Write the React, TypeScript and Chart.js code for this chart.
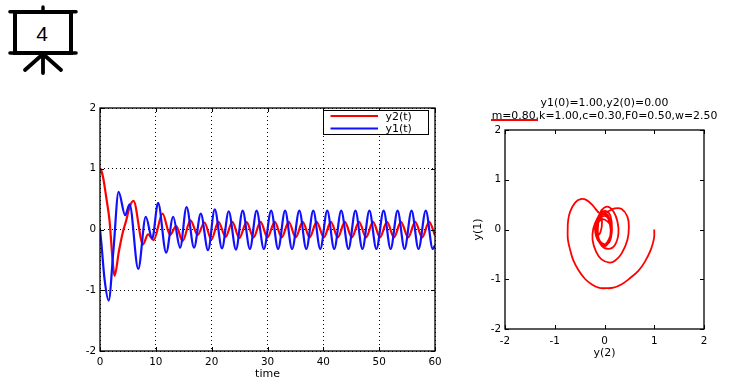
import React, { useEffect, useRef } from "react";
import { Chart, registerables } from "chart.js";

Chart.register(...registerables);

const y1Times = [0, 0.25, 0.83, 1.55, 2.4, 3.33, 4.5, 5.3, 6.85, 8.2, 9.35, 10.4, 11.85, 13.1, 14.35, 15.5, 16.85, 18.05, 19.35, 20.55, 21.85, 23.05, 24.35, 25.55, 26.85, 28.05, 29.35, 30.65, 31.9, 33.15, 34.4, 35.7, 36.95, 38.2, 39.45, 40.7, 41.95, 43.2, 44.5, 45.75, 47.0, 48.25, 49.5, 50.8, 52.05, 53.3, 54.55, 55.8, 57.05, 58.35, 59.6, 60];
const y1Values = [0, -0.23, -0.83, -1.17, -0.35, 0.62, 0.235, 0.415, -0.65, 0.21, -0.15, 0.44, -0.38, 0.21, -0.3, 0.37, -0.3, 0.26, -0.34, 0.33, -0.31, 0.3, -0.33, 0.31, -0.32, 0.31, -0.32, 0.31, -0.32, 0.31, -0.32, 0.31, -0.32, 0.31, -0.32, 0.31, -0.32, 0.31, -0.32, 0.31, -0.32, 0.31, -0.32, 0.31, -0.32, 0.31, -0.32, 0.31, -0.32, 0.31, -0.32, -0.26];
const y2Times = [0, 0.2, 0.55, 1.2, 1.7, 2.3, 2.6, 3.4, 4.1, 4.7, 5.3, 6, 7.7, 8.6, 9.6, 11.2, 12.55, 13.65, 14.8, 16.2, 17.5, 18.7, 19.95, 21.2, 22.5, 23.7, 24.95, 26.25, 27.5, 28.75, 30.0, 31.3, 32.55, 33.8, 35.05, 36.3, 37.55, 38.8, 40.1, 41.35, 42.6, 43.85, 45.1, 46.4, 47.65, 48.9, 50.15, 51.4, 52.65, 53.9, 55.2, 56.45, 57.7, 58.95, 60];
const y2Values = [1, 0.98, 0.86, 0.48, 0.15, -0.55, -0.765, -0.35, -0.04, 0.15, 0.37, 0.47, -0.245, -0.08, -0.175, 0.26, -0.09, 0.055, -0.19, 0.15, -0.09, 0.115, -0.165, 0.125, -0.12, 0.125, -0.14, 0.12, -0.13, 0.125, -0.13, 0.125, -0.13, 0.125, -0.13, 0.125, -0.13, 0.125, -0.13, 0.125, -0.13, 0.125, -0.13, 0.125, -0.13, 0.125, -0.13, 0.125, -0.13, 0.125, -0.13, 0.125, -0.13, 0.125, -0.1];

const portraitY2 = [1, 0.995, 0.93, 0.81, 0.68, 0.51, 0.345, 0.18, 0.03, -0.12, -0.26, -0.39, -0.525, -0.63, -0.69, -0.735, -0.74, -0.73, -0.69, -0.59, -0.48, -0.36, -0.225, -0.09, 0.06, 0.21, 0.345, 0.46, 0.49, 0.46, 0.345, 0.21, 0.1, -0.06, -0.17, -0.24, -0.225, -0.145, -0.09, -0.05, -0.08, -0.15, -0.14, -0.08, -0.06, 0.06, 0.18, 0.26, 0.28, 0.21, 0.08, -0.06, -0.145, -0.145,
  -0.07, 0.0, 0.1, 0.14, 0.1, 0.0, -0.13, -0.19, -0.15, -0.08, 0.03, 0.12, 0.15, 0.1, 0.0, -0.1, -0.16, -0.13, -0.05, 0.04, 0.11, 0.13, 0.09, -0.01, -0.11, -0.15, -0.11, -0.02, 0.07, 0.12, 0.14, 0.09, 0.0, -0.1, -0.14, -0.1, -0.02, 0.08, 0.125, 0.09, 0.0, -0.1, -0.135, -0.1, -0.02, 0.08, 0.125, 0.09, 0.0, -0.1, -0.135, -0.1, -0.02, 0.08, 0.125];
const portraitY1 = [0, -0.18, -0.41, -0.65, -0.83, -0.98, -1.1, -1.17, -1.18, -1.17, -1.1, -0.995, -0.815, -0.61, -0.41, -0.21, -0.01, 0.19, 0.36, 0.54, 0.61, 0.59, 0.47, 0.325, 0.36, 0.425, 0.41, 0.26, 0.06, -0.21, -0.48, -0.63, -0.665, -0.6, -0.445, -0.21, 0.02, 0.225, 0.27, 0.15, -0.05, -0.13, 0.05, 0.3, 0.39, 0.46, 0.36, 0.16, -0.08, -0.31, -0.39, -0.325, -0.14, 0.09,
  0.2, 0.2, 0.12, -0.02, -0.17, -0.3, -0.22, 0.0, 0.2, 0.33, 0.37, 0.27, 0.0, -0.25, -0.3, -0.22, 0.0, 0.18, 0.26, 0.26, 0.15, -0.02, -0.24, -0.34, -0.24, 0.0, 0.24, 0.33, 0.28, 0.1, -0.03, -0.23, -0.31, -0.23, 0.0, 0.23, 0.31, 0.21, 0.0, -0.23, -0.32, -0.23, 0.0, 0.23, 0.31, 0.21, 0.0, -0.23, -0.32, -0.23, 0.0, 0.23, 0.31, 0.21, 0.0];

const xAxisLabel = "time";
const titleLines = ["y1(0)=1.00,y2(0)=0.00", "m=0.80,k=1.00,c=0.30,F0=0.50,w=2.50"];

const FONT = "'DejaVu Sans'";
const tickFont = { family: FONT, size: 10.4 };
const labelFont = { family: FONT, size: 11 };

const zip = (xs: number[], ys: number[]) => xs.map((x, i) => ({ x, y: ys[i] }));

const framePlugin = {
  id: "frame",
  afterDraw(chart: any) {
    const { ctx, chartArea: a, scales } = chart;
    ctx.save();
    ctx.strokeStyle = "#000";
    ctx.lineWidth = 1.3;
    ctx.strokeRect(a.left, a.top, a.right - a.left, a.bottom - a.top);
    ctx.lineWidth = 1;
    const len = 4;
    ctx.beginPath();
    scales.x.ticks.forEach((_: any, i: number) => {
      const p = Math.round(scales.x.getPixelForTick(i)) + 0.5;
      ctx.moveTo(p, a.bottom);
      ctx.lineTo(p, a.bottom - len);
      ctx.moveTo(p, a.top);
      ctx.lineTo(p, a.top + len);
    });
    scales.y.ticks.forEach((_: any, i: number) => {
      const p = Math.round(scales.y.getPixelForTick(i)) + 0.5;
      ctx.moveTo(a.left, p);
      ctx.lineTo(a.left + len, p);
      ctx.moveTo(a.right, p);
      ctx.lineTo(a.right - len, p);
    });
    ctx.stroke();
    ctx.restore();
  },
};

const titlePlugin = {
  id: "plotTitle",
  afterDraw(chart: any) {
    const { ctx, chartArea: a } = chart;
    ctx.save();
    ctx.font = `10.9px ${FONT}`;
    ctx.fillStyle = "#000";
    ctx.textAlign = "center";
    ctx.textBaseline = "middle";
    const cx = (a.left + a.right) / 2;
    titleLines.forEach((line, i) => {
      ctx.fillText(line, cx, a.top - 27 + i * 13);
    });
    ctx.restore();
  },
};

const legendPlugin = {
  id: "boxLegend",
  afterDraw(chart: any) {
    const { ctx, chartArea: a } = chart;
    const boxL = a.left + 223.5;
    const boxT = a.top + 2.5;
    ctx.save();
    ctx.fillStyle = "#fff";
    ctx.fillRect(boxL, boxT, 105, 24);
    ctx.strokeStyle = "#000";
    ctx.lineWidth = 1;
    ctx.strokeRect(boxL, boxT, 105, 24);
    ctx.font = `11px ${FONT}`;
    ctx.textBaseline = "middle";
    chart.data.datasets.forEach((d: any, i: number) => {
      const y = boxT + 5.5 + i * 12.5;
      ctx.strokeStyle = d.borderColor;
      ctx.lineWidth = 2.2;
      ctx.beginPath();
      ctx.moveTo(boxL + 7, y);
      ctx.lineTo(boxL + 54.5, y);
      ctx.stroke();
      ctx.fillStyle = "#000";
      ctx.fillText(d.label, boxL + 62, y + 1);
    });
    ctx.restore();
  },
};

function axisBase(min: number, max: number, step: number, grid: boolean, pad: number) {
  return {
    type: "linear" as const,
    min,
    max,
    ticks: { stepSize: step, color: "#000", font: tickFont, padding: pad, maxRotation: 0, autoSkip: false },
    border: { display: false, dash: [1, 3] },
    grid: { display: grid, color: "#000", lineWidth: 1, drawTicks: false, tickLength: 0 },
  };
}

export default function App() {
  const leftRef = useRef<HTMLCanvasElement>(null);
  const rightRef = useRef<HTMLCanvasElement>(null);

  useEffect(() => {
    const left = new Chart(leftRef.current!, {
      type: "line",
      data: {
        datasets: [
          { label: "y2(t)", data: zip(y2Times, y2Values), borderColor: "#ff0000", borderWidth: 2.2, pointRadius: 0, cubicInterpolationMode: "monotone", order: 2 },
          { label: "y1(t)", data: zip(y1Times, y1Values), borderColor: "#1010ff", borderWidth: 2.2, pointRadius: 0, cubicInterpolationMode: "monotone", order: 1 },
        ],
      },
      options: {
        animation: false,
        responsive: false,
        layout: { padding: { top: 18, right: 25, left: 0, bottom: 0 } },
        plugins: { legend: { display: false }, tooltip: { enabled: false }, title: { display: false } },
        scales: {
          x: {
            ...axisBase(0, 60, 10, true, 5),
            title: { display: true, text: xAxisLabel, color: "#000", font: labelFont, padding: 0 },
            afterFit: (s: any) => { s.height = 30; },
          },
          y: { ...axisBase(-2, 2, 1, true, 4), afterFit: (s: any) => { s.width = 40; } },
        },
      },
      plugins: [framePlugin, legendPlugin],
    } as any);

    const right = new Chart(rightRef.current!, {
      type: "scatter",
      data: {
        datasets: [
          { label: "y(1)", data: zip(portraitY2, portraitY1), borderColor: "#ff0000", borderWidth: 1.8, pointRadius: 0, showLine: true, tension: 0.4 },
        ],
      },
      options: {
        animation: false,
        responsive: false,
        layout: { padding: { top: 37, right: 16, left: 0, bottom: 0 } },
        plugins: { legend: { display: false }, tooltip: { enabled: false }, title: { display: false } },
        scales: {
          x: {
            ...axisBase(-2, 2, 1, false, 6),
            title: { display: true, text: "y(2)", color: "#000", font: labelFont, padding: 0 },
            afterFit: (s: any) => { s.height = 31; },
          },
          y: {
            ...axisBase(-2, 2, 1, false, 4),
            title: { display: true, text: "y(1)", color: "#000", font: labelFont, padding: 0 },
            afterFit: (s: any) => { s.width = 33; },
          },
        },
      },
      plugins: [framePlugin, titlePlugin],
    } as any);

    return () => {
      left.destroy();
      right.destroy();
    };
  }, []);

  return (
    <div style={{ position: "absolute", left: 0, top: 0, width: 744, height: 384, overflow: "hidden", background: "#fff" }}>
      <svg width={90} height={80} style={{ position: "absolute", left: 0, top: 0 }}>
        <g stroke="#000" strokeLinecap="round" fill="none">
          <path d="M43 7V11" strokeWidth={3.4} />
          <path d="M10 11.8H76" strokeWidth={3.6} />
          <path d="M10 53H76" strokeWidth={3.6} />
          <rect x={15} y={12} width={56} height={41} strokeWidth={4} strokeLinecap="butt" />
          <path d="M43 54L25 70M43 54V73M43 54L61 70" strokeWidth={3.8} />
        </g>
        <text x={42} y={41} textAnchor="middle" fontFamily="'Liberation Sans'" fontSize={21} fill="#000">4</text>
      </svg>
      <canvas ref={leftRef} width={400} height={291} style={{ position: "absolute", left: 60, top: 90, display: "block" }} />
      <canvas ref={rightRef} width={248} height={267} style={{ position: "absolute", left: 472, top: 93, display: "block" }} />
      <div style={{ position: "absolute", left: 491, top: 119, width: 47, height: 2, background: "#ff0000" }} />
    </div>
  );
}
